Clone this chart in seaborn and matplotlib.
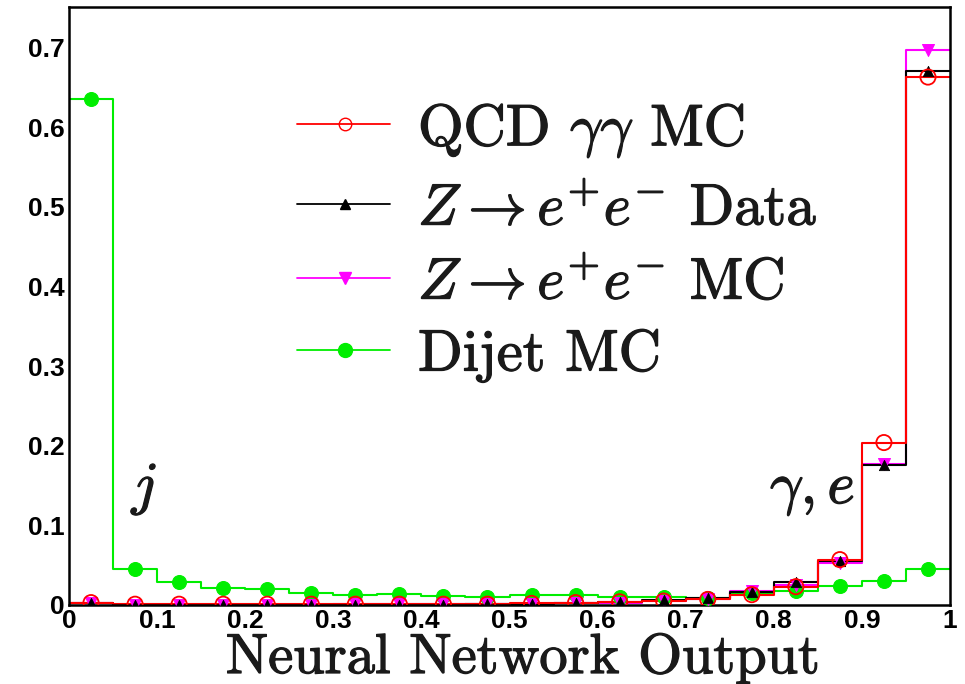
import numpy as np
import pandas as pd
import matplotlib
matplotlib.use("Agg")
import matplotlib.pyplot as plt
import matplotlib.patheffects as pe
from matplotlib.lines import Line2D
from matplotlib.ticker import MultipleLocator, FixedFormatter, FixedLocator
import seaborn as sns

# ---- data (bin centres of 20 bins on [0,1]) ----
bin_centers = [0.025, 0.075, 0.125, 0.175, 0.225, 0.275, 0.325, 0.375, 0.425, 0.475,
               0.525, 0.575, 0.625, 0.675, 0.725, 0.775, 0.825, 0.875, 0.925, 0.975]
qcd_mc = [0.003, 0.001, 0.001, 0.001, 0.001, 0.001, 0.001, 0.001, 0.001, 0.001,
          0.002, 0.003, 0.004, 0.005, 0.007, 0.013, 0.023, 0.057, 0.204, 0.663]
z_data = [0.002, 0.000, 0.000, 0.000, 0.000, 0.000, 0.000, 0.000, 0.000, 0.001,
          0.001, 0.002, 0.004, 0.006, 0.009, 0.016, 0.029, 0.055, 0.176, 0.671]
z_mc = [0.002, 0.000, 0.000, 0.000, 0.000, 0.000, 0.001, 0.001, 0.001, 0.001,
        0.001, 0.002, 0.003, 0.005, 0.008, 0.018, 0.025, 0.053, 0.177, 0.697]
dijet_mc = [0.635, 0.045, 0.029, 0.021, 0.020, 0.015, 0.0125, 0.014, 0.011, 0.010,
            0.0125, 0.0125, 0.010, 0.010, 0.009, 0.015, 0.018, 0.024, 0.030, 0.045]
dijet_err = [0.008] + [0.0] * 19

labels = [r"QCD $\gamma\gamma$ MC",
          r"$Z\rightarrow e^{+}e^{-}$ Data",
          r"$Z\rightarrow e^{+}e^{-}$ MC",
          "Dijet MC"]
x_ticks = [0, 0.1, 0.2, 0.3, 0.4, 0.5, 0.6, 0.7, 0.8, 0.9, 1.0]
x_tick_labels = ["0", "0.1", "0.2", "0.3", "0.4", "0.5", "0.6", "0.7", "0.8", "0.9", "1"]
y_ticks = [0, 0.1, 0.2, 0.3, 0.4, 0.5, 0.6, 0.7]
y_tick_labels = ["0", "0.1", "0.2", "0.3", "0.4", "0.5", "0.6", "0.7"]

sns.set_theme(style="white")
plt.rcParams["mathtext.fontset"] = "cm"
plt.rcParams["font.family"] = ["Liberation Sans", "DejaVu Sans"]
plt.rcParams["axes.unicode_minus"] = False

W, H = 965, 684
AX_L, AX_R, AX_B, AX_T = 69, 950, 605, 7
fig = plt.figure(figsize=(W / 100, H / 100), dpi=100)
ax = fig.add_axes([AX_L / W, 1 - AX_B / H, (AX_R - AX_L) / W, (AX_B - AX_T) / H])


def ax_frac(px, py):
    return (px - AX_L) / (AX_R - AX_L), (AX_B - py) / (AX_B - AX_T)


df = pd.DataFrame({"x": bin_centers, "qcd": qcd_mc, "zdata": z_data,
                   "zmc": z_mc, "dijet": dijet_mc})

GREEN, MAG, RED = "#00ee00", "#ff00ff", "#ff0000"
series = [
    ("dijet", GREEN, dict(marker="o", s=100, color=GREEN, edgecolor=GREEN)),
    ("zmc", MAG, dict(marker="v", s=75, color=MAG, edgecolor=MAG)),
    ("zdata", "black", dict(marker="^", s=55, color="black", edgecolor="black")),
    ("qcd", RED, dict(marker="o", s=120, facecolors="none", edgecolor=RED, linewidth=1.3)),
]
for col, c, mk in series:
    sns.histplot(data=df, x="x", weights=col, bins=20, binrange=(0, 1),
                 element="step", fill=False, color=c, linewidth=1.5, ax=ax)
for col, c, mk in series:
    sns.scatterplot(data=df, x="x", y=col, ax=ax, zorder=5, **mk)

ax.errorbar(bin_centers, dijet_mc, yerr=dijet_err, fmt="none", ecolor=GREEN,
            elinewidth=1.5, zorder=4)

ax.set_xlim(0, 1)
ax.set_ylim(0, 0.751)
ax.set_ylabel("")

ax.xaxis.set_major_locator(FixedLocator(x_ticks))
ax.xaxis.set_major_formatter(FixedFormatter(x_tick_labels))
ax.xaxis.set_minor_locator(MultipleLocator(0.02))
ax.yaxis.set_major_locator(FixedLocator(y_ticks))
ax.yaxis.set_major_formatter(FixedFormatter(y_tick_labels))
ax.yaxis.set_minor_locator(MultipleLocator(0.02))

ax.tick_params(axis="both", which="both", direction="in", color="black",
               top=False, right=False)
ax.tick_params(axis="y", which="major", length=18, width=1.3, pad=3)
ax.tick_params(axis="y", which="minor", length=9, width=1.3)
ax.tick_params(axis="x", which="major", length=11, width=1.3, pad=3)
ax.tick_params(axis="x", which="minor", length=6, width=1.3)
for lab in ax.get_xticklabels() + ax.get_yticklabels():
    lab.set_fontsize(19)
    lab.set_fontweight("bold")
    lab.set_color("black")

for sp in ax.spines.values():
    sp.set_visible(True)
    sp.set_color("black")
    sp.set_linewidth(1.8)

SERIF = ["cmr10", "DejaVu Serif"]
TXT = "#1a1a1a"
heavy = [pe.withStroke(linewidth=0.9, foreground=TXT)]
renderer = fig.canvas.get_renderer()


def fit_width(artist, target_px):
    w = artist.get_window_extent(renderer=renderer).width
    artist.set_fontsize(artist.get_fontsize() * target_px / w)


# x label (right-aligned, baseline near the bottom edge)
ax.set_xlabel("Neural Network Output", fontsize=38, family=SERIF, color=TXT)
ax.xaxis.label.set_ha("right")
ax.xaxis.label.set_va("baseline")
ax.xaxis.label.set_path_effects(heavy)
ax.xaxis.set_label_coords(*ax_frac(820, 673))
fit_width(ax.xaxis.label, 595)

# region annotations
tj = ax.text(0.086, 0.145, r"$j$", fontsize=40, ha="center", va="center", color=TXT,
             path_effects=heavy)
tg = ax.text(*ax_frac(770, 490), r"$\gamma,e$", fontsize=40, ha="left", va="center",
             color=TXT, transform=ax.transAxes, path_effects=heavy)
fit_width(tg, 85)
tj.set_fontsize(tg.get_fontsize())

# legend rows
leg_rows_y = [124, 204, 278, 350]
handles = [
    dict(color=RED, marker="o", markerfacecolor="none", markeredgecolor=RED, markersize=9),
    dict(color="black", marker="^", markersize=7),
    dict(color=MAG, marker="v", markersize=8),
    dict(color=GREEN, marker="o", markersize=10),
]
texts = []
for lab, hy, hk in zip(labels, leg_rows_y, handles):
    x0, y0 = ax_frac(297, hy)
    x1, _ = ax_frac(390, hy)
    xm, _ = ax_frac(345, hy)
    ax.add_line(Line2D([x0, x1], [y0, y0], transform=ax.transAxes, color=hk["color"],
                       linewidth=1.3, zorder=6))
    ax.add_line(Line2D([xm], [y0], transform=ax.transAxes, linestyle="none", zorder=7, **hk))
    tx, ty = ax_frac(418, hy)
    t = ax.text(tx, ty, lab, transform=ax.transAxes, fontsize=36, family=SERIF,
                ha="left", va="center_baseline", color=TXT, path_effects=heavy)
    texts.append(t)
w0 = texts[0].get_window_extent(renderer=renderer).width
scale = 327 / w0
for t in texts:
    t.set_fontsize(t.get_fontsize() * scale)

fig.savefig("out.png", dpi=100)
